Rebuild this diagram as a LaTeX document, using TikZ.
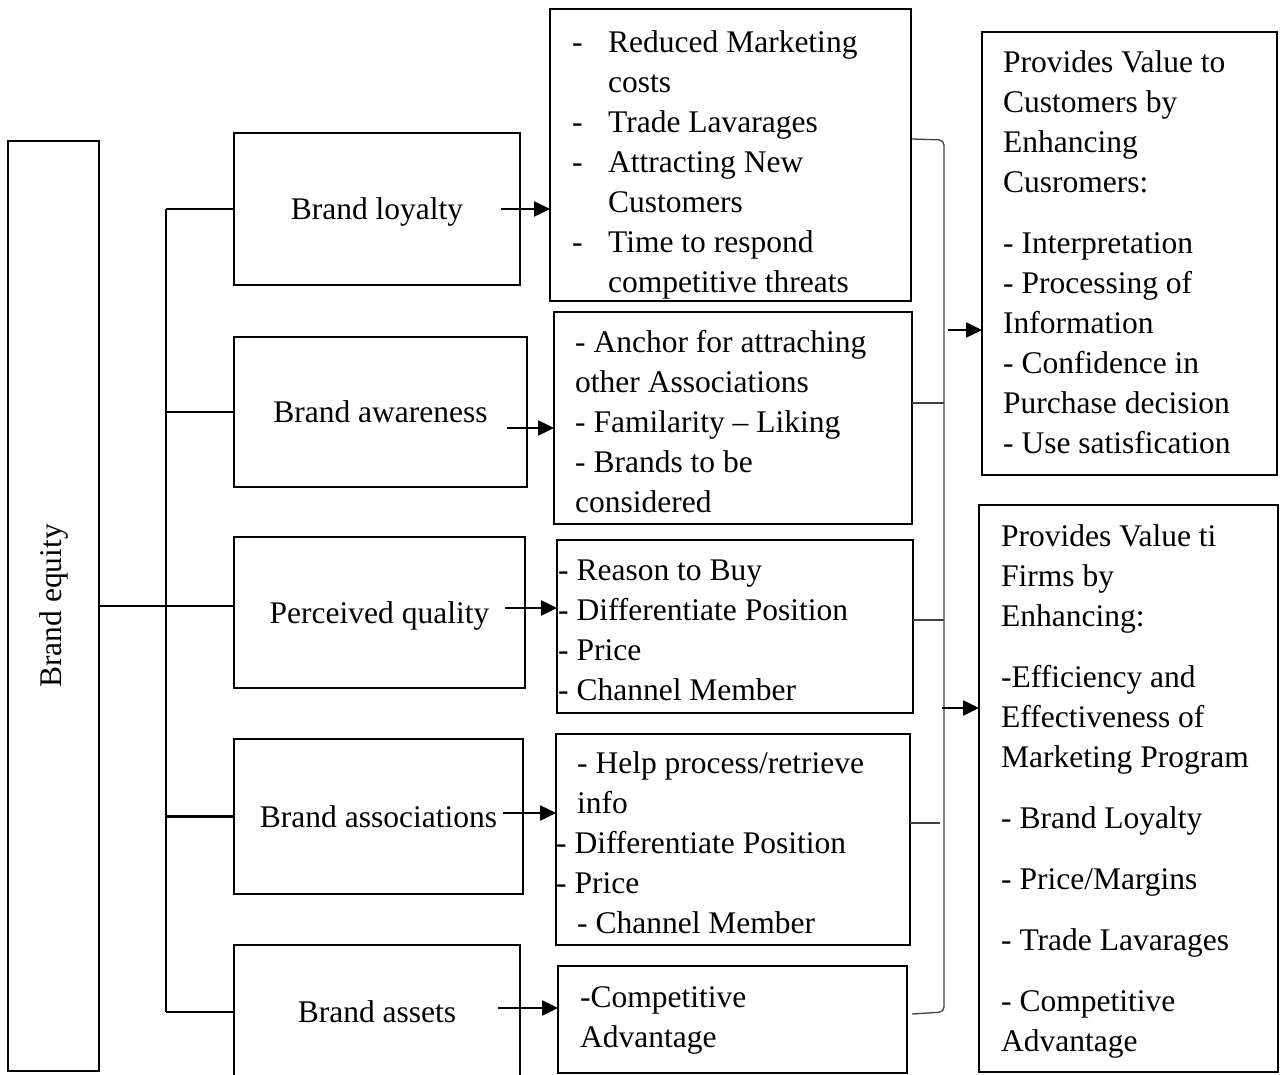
\documentclass[tikz,border=0pt]{standalone}
\usepackage{fontspec}
\setmainfont{Liberation Serif}
\usetikzlibrary{arrows.meta}
\begin{document}
\begin{tikzpicture}[x=1pt,y=-1pt,
  every node/.style={font=\fontsize{31.5}{40}\selectfont},
  box/.style={draw, line width=2.5pt, inner sep=0pt, outer sep=0pt},
  label/.style={box, text height=21pt, text depth=0pt},
  txt/.style={align=left, inner sep=0pt, anchor=north west},
  conn/.style={line width=2.5pt},
  arr/.style={line width=2.5pt, -{Triangle[length=16pt,width=15pt]}},
  brk/.style={line width=1.3pt, draw=black!75}]
\useasboundingbox (0,0) rectangle (1283,1075);
\clip (0,0) rectangle (1283,1075);
\newcommand{\dsh}{\makebox[36pt][l]{-}}
\newcommand{\ind}{\hspace*{36pt}}
\newcommand{\fst}{\rule{0pt}{28pt}}

% root box
\node[box, minimum width=91pt, minimum height=930pt] (eq) at (53.5,606) {};
\node[rotate=90] (eqlabel) at (eq.center) {Brand equity};

% dimension boxes
\node[label, minimum width=286pt, minimum height=152pt] (loyal) at (377,209) {Brand loyalty};
\node[label, minimum width=293pt, minimum height=150pt] (aware) at (380.5,412) {Brand awareness};
\node[label, minimum width=291pt, minimum height=151pt] (perc) at (379.5,612.5) {Perceived quality};
\node[label, minimum width=289pt, minimum height=155pt] (assoc) at (378.5,816.5) {Brand associations};
\node[label, minimum width=286pt, minimum height=134pt] (assets) at (377,1012) {Brand assets};

% tree connectors
\coordinate (trunk) at (166,606);
\draw[conn] (eq.east) -- (trunk -| perc.west);
\draw[conn] (trunk |- loyal.west) -- (trunk |- assets.west);
\draw[conn] (trunk |- loyal.west) -- (loyal.west);
\draw[conn] (trunk |- aware.west) -- (aware.west);
\draw[conn] (trunk |- assoc.west) -- (assoc.west);
\draw[conn] (trunk |- assets.west) -- (assets.west);

% benefit boxes
\node[box, minimum width=361pt, minimum height=292pt] (L1) at (730.5,155) {};
\node[box, minimum width=358pt, minimum height=212pt] (L2) at (733,418) {};
\node[box, minimum width=356pt, minimum height=173pt] (L3) at (735,626.5) {};
\node[box, minimum width=354pt, minimum height=211pt] (L4) at (733,839.5) {};
\node[box, minimum width=349pt, minimum height=107pt] (L5) at (732.5,1019.5) {};

\node[txt] (L1t) at (572,24) {\fst\dsh Reduced Marketing\\ \ind costs\\ \dsh Trade Lavarages\\ \dsh Attracting New\\ \ind Customers\\ \dsh Time to respond\\ \ind competitive threats};
\node[txt] (L2t) at (575,324) {\fst- Anchor for attraching\\ other Associations\\ - Familarity – Liking\\ - Brands to be\\ considered};
\node[txt] (L3t) at (558,552) {\fst- Reason to Buy\\ - Differentiate Position\\ - Price\\ - Channel Member};
\node[txt] (L4t) at (556,745) {\fst\hspace*{21pt}- Help process/retrieve\\ \hspace*{21pt}info\\ - Differentiate Position\\ - Price\\ \hspace*{21pt}- Channel Member};
\node[txt] (L5t) at (580,979) {\fst-Competitive\\ Advantage};

% arrows from dimensions to benefits
\coordinate (a1) at (501,209);
\coordinate (a2) at (507,428);
\coordinate (a3) at (505,608);
\coordinate (a4) at (503,813);
\coordinate (a5) at (498,1008);
\draw[arr] (a1) -- (a1 -| L1.west);
\draw[arr] (a2) -- (a2 -| L2.west);
\draw[arr] (a3) -- (a3 -| L3.west);
\draw[arr] (a4) -- (a4 -| L4.west);
\draw[arr] (a5) -- (a5 -| L5.west);

% value boxes
\node[box, minimum width=295pt, minimum height=443pt] (R1) at (1129.5,253.5) {};
\node[box, minimum width=299pt, minimum height=567pt] (R2) at (1128.5,788.5) {};
\node[txt] (R1t) at (1003,44) {\fst Provides Value to\\ Customers by\\ Enhancing\\ Cusromers:\\[21pt] - Interpretation\\ - Processing of\\ Information\\ - Confidence in\\ Purchase decision\\ - Use satisfication};
\node[txt] (R2t) at (1001,518) {\fst Provides Value ti\\ Firms by\\ Enhancing:\\[21pt] -Efficiency and\\ Effectiveness of\\ Marketing Program\\[21pt] - Brand Loyalty\\[21pt] - Price/Margins\\[21pt] - Trade Lavarages\\[21pt] - Competitive\\ Advantage};

% bracket gathering the benefits
\draw[brk, rounded corners=5pt] (912,139) -- (944,140) -- (944,1012) -- (912,1014);
\coordinate (k2) at (944,403);
\coordinate (k3) at (944,620);
\coordinate (k4) at (940,823);
\draw[brk] (k2 -| L2.east) -- (k2);
\draw[brk] (k3 -| L3.east) -- (k3);
\draw[brk] (k4 -| L4.east) -- (k4);

% arrows to value boxes
\coordinate (b1) at (948,330);
\coordinate (b2) at (942,708);
\draw[arr] (b1) -- (b1 -| R1.west);
\draw[arr] (b2) -- (b2 -| R2.west);
\end{tikzpicture}
\end{document}
